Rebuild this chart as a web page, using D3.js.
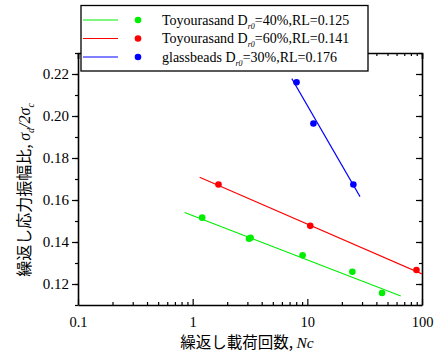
<!DOCTYPE html>
<html>
<head>
<meta charset="utf-8">
<script src="https://cdn.jsdelivr.net/npm/d3@7"></script>
<style>
  body { margin: 0; background: #fff; }
  text { font-family: "Liberation Serif", "Times New Roman", serif; }
  .cjk { font-family: "Noto Sans CJK JP", "Noto Sans", sans-serif; }
</style>
</head>
<body>
<div id="chart"></div>
<script>
// measured points
const series = ["Toyourasand Dr0=40%", "Toyourasand Dr0=60%", "glassbeads Dr0=30%"];
const seriesRL = ["0.125", "0.141", "0.176"];
const seriesColor = ["#00ee00", "#ff0000", "#0000ff"];
const legendPrefix = ["Toyourasand D", "Toyourasand D", "glassbeads D"];
const legendSuffix = ["=40%,RL=0.125", "=60%,RL=0.141", "=30%,RL=0.176"];

const ncGreen = [1.21, 3.1, 3.2, 9.1, 24.7, 44.8];
const ratioGreen = [0.1516, 0.1416, 0.1420, 0.1337, 0.1258, 0.1157];
const ncRed = [1.68, 10.6, 89.5];
const ratioRed = [0.1674, 0.1477, 0.1267];
const ncBlue = [8.05, 11.3, 25.2];
const ratioBlue = [0.2161, 0.1964, 0.1674];

// fitted lines: end points
const fitNcGreen = [0.85, 65.3];
const fitRatioGreen = [0.1540, 0.1143];
const fitNcRed = [1.15, 100];
const fitRatioRed = [0.1708, 0.1248];
const fitNcBlue = [7.32, 28.8];
const fitRatioBlue = [0.2178, 0.1616];

const yTicks = [0.12, 0.14, 0.16, 0.18, 0.20, 0.22];
const xTicks = [0.1, 1, 10, 100];

const points = [
  ncGreen.map((d, i) => [d, ratioGreen[i]]),
  ncRed.map((d, i) => [d, ratioRed[i]]),
  ncBlue.map((d, i) => [d, ratioBlue[i]])
];
const fits = [
  fitNcGreen.map((d, i) => [d, fitRatioGreen[i]]),
  fitNcRed.map((d, i) => [d, fitRatioRed[i]]),
  fitNcBlue.map((d, i) => [d, fitRatioBlue[i]])
];

const width = 438, height = 351;
const margin = {top: 53, right: 16, bottom: 46, left: 78};

const svg = d3.select("#chart").append("svg")
    .attr("width", width)
    .attr("height", height);

const x = d3.scaleLog()
    .domain([0.1, 100])
    .range([margin.left, width - margin.right]);
const y = d3.scaleLinear()
    .domain([0.11, 0.23])
    .range([height - margin.bottom, margin.top]);

// minor ticks on the log axis: 2..9 in every decade
const xMinor = [];
for (let p = -1; p < 2; p++) {
  for (let k = 2; k < 10; k++) xMinor.push(k * Math.pow(10, p));
}
const yMinor = d3.range(0.11, 0.2301, 0.01).map(d => +d.toFixed(2));

// bottom axis, ticks inside
svg.append("g")
    .attr("transform", `translate(0,${height - margin.bottom})`)
    .call(d3.axisBottom(x).tickValues(xMinor).tickSize(-3).tickFormat(""))
    .call(g => g.select(".domain").remove());
svg.append("g")
    .attr("transform", `translate(0,${height - margin.bottom})`)
    .call(d3.axisBottom(x).tickValues(xTicks).tickSizeInner(-6).tickSizeOuter(0)
      .tickPadding(12).tickFormat(d3.format("~g")))
    .call(g => g.selectAll("text").attr("font-size", 14.5).attr("dy", "0.71em"));

// top axis
svg.append("g")
    .attr("transform", `translate(0,${margin.top})`)
    .call(d3.axisTop(x).tickValues(xMinor).tickSize(-3).tickFormat(""))
    .call(g => g.select(".domain").remove());
svg.append("g")
    .attr("transform", `translate(0,${margin.top})`)
    .call(d3.axisTop(x).tickValues(xTicks).tickSize(-6).tickFormat(""));

// left axis, ticks outside
svg.append("g")
    .attr("transform", `translate(${margin.left},0)`)
    .call(d3.axisLeft(y).tickValues(yMinor).tickSize(3).tickFormat(""))
    .call(g => g.select(".domain").remove());
svg.append("g")
    .attr("transform", `translate(${margin.left},0)`)
    .call(d3.axisLeft(y).tickValues(yTicks).tickSizeInner(6).tickSizeOuter(0)
      .tickPadding(3).tickFormat(d3.format(".2f")))
    .call(g => g.selectAll("text").attr("font-size", 15));

// right axis, ticks inside
svg.append("g")
    .attr("transform", `translate(${width - margin.right},0)`)
    .call(d3.axisRight(y).tickValues(yMinor).tickSize(-3).tickFormat(""))
    .call(g => g.select(".domain").remove());
svg.append("g")
    .attr("transform", `translate(${width - margin.right},0)`)
    .call(d3.axisRight(y).tickValues(yTicks).tickSizeInner(-6).tickSizeOuter(0).tickFormat(""));

svg.selectAll(".domain").attr("stroke-width", 1.6);
svg.selectAll(".tick line").attr("stroke-width", 1.2);

// clip for the data
svg.append("clipPath").attr("id", "clip")
  .append("rect")
    .attr("x", margin.left).attr("y", margin.top)
    .attr("width", width - margin.left - margin.right)
    .attr("height", height - margin.top - margin.bottom);

const line = d3.line().x(d => x(d[0])).y(d => y(d[1]));

const plot = svg.append("g").attr("clip-path", "url(#clip)");
plot.selectAll("path.fit")
  .data(fits)
  .join("path")
    .attr("class", "fit")
    .attr("fill", "none")
    .attr("stroke", (d, i) => seriesColor[i])
    .attr("stroke-width", 1.1)
    .attr("d", line);

plot.selectAll("g.pts")
  .data(points)
  .join("g")
    .attr("fill", (d, i) => seriesColor[i])
  .selectAll("circle")
  .data(d => d)
  .join("circle")
    .attr("cx", d => x(d[0]))
    .attr("cy", d => y(d[1]))
    .attr("r", 3.3);

// legend
const legend = svg.append("g");
legend.append("rect")
    .attr("x", 81).attr("y", 5.5)
    .attr("width", 287).attr("height", 65.5)
    .attr("fill", "#fff")
    .attr("stroke", "#000")
    .attr("stroke-width", 1.3);

const rows = legend.selectAll("g.row")
  .data(series)
  .join("g")
    .attr("class", "row")
    .attr("transform", (d, i) => `translate(0,${20 + i * 18.5})`);
rows.append("line")
    .attr("x1", 83).attr("x2", 118)
    .attr("stroke", (d, i) => seriesColor[i])
    .attr("stroke-width", 1.1);
rows.append("circle")
    .attr("cx", 138).attr("r", 3.3)
    .attr("fill", (d, i) => seriesColor[i]);
const lt = rows.append("text")
    .attr("x", 162)
    .attr("dy", "0.35em")
    .attr("font-size", 14);
lt.append("tspan").text((d, i) => legendPrefix[i]);
lt.append("tspan").attr("font-size", 8).attr("dy", 4).attr("font-style", "italic").text("r0");
lt.append("tspan").attr("dy", -4).text((d, i) => legendSuffix[i]);

// axis titles
const xt = svg.append("text")
    .attr("x", 247).attr("y", 348)
    .attr("text-anchor", "middle")
    .attr("font-size", 15.5);
xt.append("tspan").attr("class", "cjk").text("繰返し載荷回数, ");
xt.append("tspan").attr("font-style", "italic").text("Nc");

const yt = svg.append("text")
    .attr("transform", "translate(30,190) rotate(-90)")
    .attr("text-anchor", "middle")
    .attr("font-size", 16);
yt.append("tspan").attr("class", "cjk").text("繰返し応力振幅比, ");
yt.append("tspan").attr("font-style", "italic").text("σ");
yt.append("tspan").attr("font-style", "italic").attr("font-size", 10).attr("dy", 4).text("d");
yt.append("tspan").attr("font-style", "italic").attr("dy", -4).text("/2σ");
yt.append("tspan").attr("font-style", "italic").attr("font-size", 10).attr("dy", 4).text("c");
</script>
</body>
</html>
